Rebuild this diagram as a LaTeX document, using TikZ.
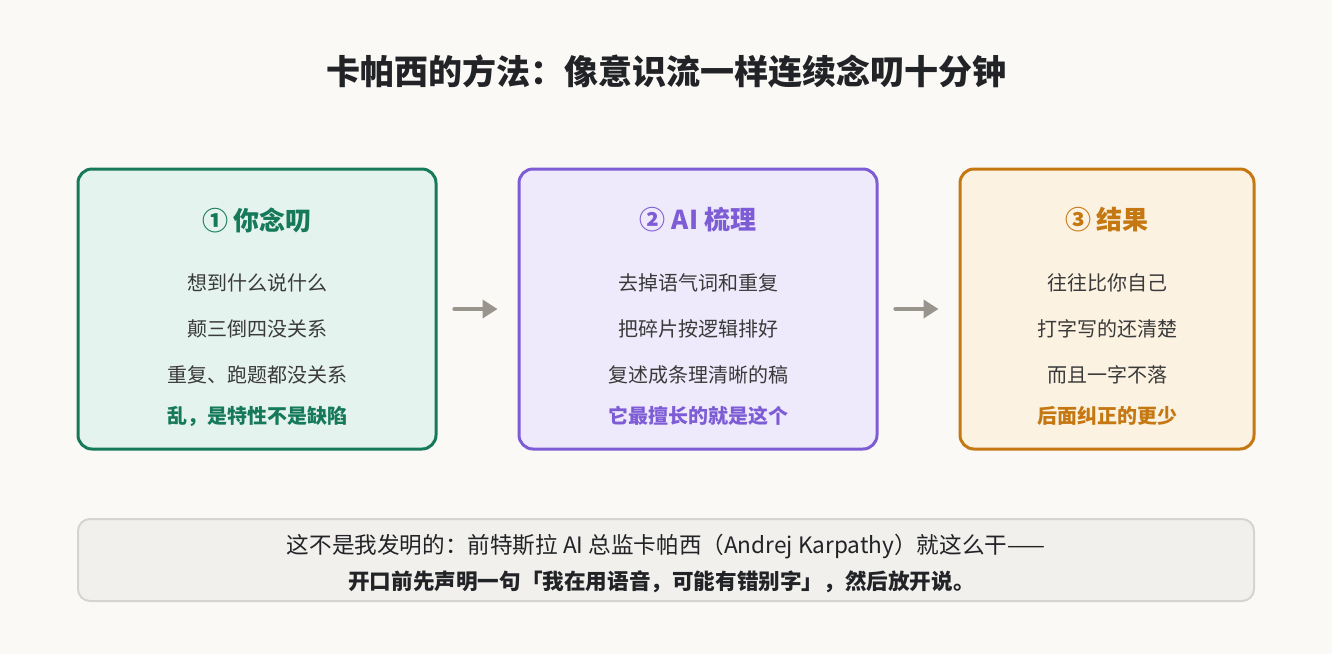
\documentclass[tikz,border=0pt]{standalone}
\usepackage{fontspec}
\setmainfont{Noto Sans CJK SC}
\usetikzlibrary{arrows.meta}
\definecolor{bg}{HTML}{FAF9F6}
\definecolor{gS}{HTML}{167A5A}
\definecolor{gF}{HTML}{E5F3EE}
\definecolor{pS}{HTML}{7D5CD6}
\definecolor{pF}{HTML}{EEEAFB}
\definecolor{oS}{HTML}{C57812}
\definecolor{oF}{HTML}{FCF2E2}
\definecolor{nS}{HTML}{D6D4D0}
\definecolor{nF}{HTML}{F1F0ED}
\definecolor{txt}{HTML}{3A3A3A}
\definecolor{ttl}{HTML}{222326}
\definecolor{arr}{HTML}{9A958C}
\tikzset{
  card/.style={draw, line width=1.5pt, rounded corners=7pt, minimum height=140pt},
  head/.style={font=\fontsize{13}{15}\selectfont\bfseries},
  body/.style={font=\fontsize{10}{12}\selectfont, text=txt},
  key/.style={font=\fontsize{10}{12}\selectfont\bfseries},
  flow/.style={draw=arr, line width=2.2pt, line cap=round, -{Triangle[length=7.5pt,width=9pt]}},
}
\begin{document}
\begin{tikzpicture}[x=0.5pt,y=-0.5pt]
\fill[bg] (0,0) rectangle (1332,654);
\useasboundingbox (0,0) rectangle (1332,654);

\node[font=\fontsize{17}{20}\selectfont\bfseries, text=ttl] (title) at (666,72) {卡帕西的方法：像意识流一样连续念叨十分钟};

\node[card, draw=gS, fill=gF, minimum width=179pt] (b1) at (257,309) {};
\node[card, draw=pS, fill=pF, minimum width=179pt] (b2) at (698,309) {};
\node[card, draw=oS, fill=oF, minimum width=147pt] (b3) at (1107,309) {};

\node[head, text=gS] (h1) at (257,220) {① 你念叨};
\node[body] (a1) at (257,283) {想到什么说什么};
\node[body] (a2) at (257,329) {颠三倒四没关系};
\node[body] (a3) at (257,375) {重复、跑题都没关系};
\node[key, text=gS] (a4) at (257,416) {乱，是特性不是缺陷};

\node[head, text=pS] (h2) at (698,220) {② AI 梳理};
\node[body] (c1) at (698,283) {去掉语气词和重复};
\node[body] (c2) at (698,329) {把碎片按逻辑排好};
\node[body] (c3) at (698,375) {复述成条理清晰的稿};
\node[key, text=pS] (c4) at (698,416) {它最擅长的就是这个};

\node[head, text=oS] (h3) at (1107,220) {③ 结果};
\node[body] (d1) at (1107,283) {往往比你自己};
\node[body] (d2) at (1107,329) {打字写的还清楚};
\node[body] (d3) at (1107,375) {而且一字不落};
\node[key, text=oS] (d4) at (1107,416) {后面纠正的更少};

\draw[flow, shorten <=8.5pt, shorten >=10pt] (b1.east) -- (b2.west);
\draw[flow, shorten <=8.5pt, shorten >=10pt] (b2.east) -- (b3.west);

\node[draw=nS, fill=nF, line width=1pt, rounded corners=6pt, minimum width=588pt, minimum height=41pt] (note) at (666,560) {};
\node[font=\fontsize{11.3}{13}\selectfont, text=ttl] (n1) at (666,547) {这不是我发明的：前特斯拉 AI 总监卡帕西（Andrej Karpathy）就这么干——};
\node[font=\fontsize{10.8}{13}\selectfont\bfseries, text=ttl] (n2) at (661.5,582) {开口前先声明一句「我在用语音，可能有错别字」，然后放开说。};
\end{tikzpicture}
\end{document}
